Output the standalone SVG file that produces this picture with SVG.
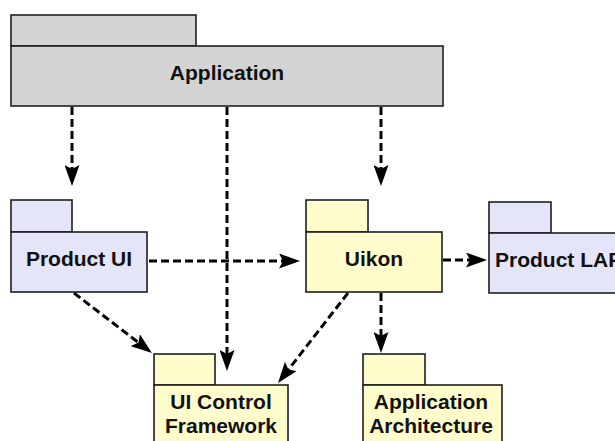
<svg xmlns="http://www.w3.org/2000/svg" width="615" height="441" viewBox="0 0 615 441">
  <style>
    .box { stroke: #1e1e1e; stroke-width: 1.6; }
    .gray { fill: #d4d4d4; }
    .lav { fill: #e5e5f9; }
    .yel { fill: #fefdcb; }
    .lbl { font-family: "Liberation Sans", Arial, sans-serif; font-weight: bold; font-size: 21px; fill: #111; text-anchor: middle; }
    .dep { fill: none; stroke: #000; stroke-width: 3; stroke-dasharray: 8 4; marker-end: url(#arr); }
  </style>
  <defs>
    <marker id="arr" markerUnits="userSpaceOnUse" markerWidth="22" markerHeight="15" viewBox="0 0 22 15" refX="4" refY="7.5" orient="auto">
      <path d="M0,0 L21,7.5 L0,15 L4,7.5 z" fill="#000"/>
    </marker>
  </defs>
  <rect width="615" height="441" fill="#fff"/>

  <g id="application">
    <rect class="box gray" x="11" y="15" width="185" height="31"/>
    <rect class="box gray" x="11" y="46" width="432" height="60"/>
    <text class="lbl" x="227" y="80">Application</text>
  </g>

  <g id="product-ui">
    <rect class="box lav" x="11" y="200" width="61" height="32"/>
    <rect class="box lav" x="11" y="232" width="136" height="60"/>
    <text class="lbl" x="79" y="266">Product UI</text>
  </g>

  <g id="uikon">
    <rect class="box yel" x="306" y="200" width="62" height="32"/>
    <rect class="box yel" x="306" y="232" width="136" height="60"/>
    <text class="lbl" x="374" y="266">Uikon</text>
  </g>

  <g id="product-laf">
    <rect class="box lav" x="489" y="202" width="62" height="31"/>
    <rect class="box lav" x="489" y="233" width="140" height="60"/>
    <text class="lbl" x="495" y="267" style="text-anchor:start">Product LAF</text>
  </g>

  <g id="ui-control-framework">
    <rect class="box yel" x="154" y="354" width="61" height="31"/>
    <rect class="box yel" x="154" y="385" width="134" height="70"/>
    <text class="lbl" x="221" y="409">UI Control</text>
    <text class="lbl" x="221" y="433">Framework</text>
  </g>

  <g id="application-architecture">
    <rect class="box yel" x="363" y="354" width="62" height="31"/>
    <rect class="box yel" x="363" y="385" width="139" height="70"/>
    <text class="lbl" x="431" y="409">Application</text>
    <text class="lbl" x="431" y="433">Architecture</text>
  </g>

  <g id="connectors">
    <path class="dep" d="M72,107 L72,169"/>
    <path class="dep" d="M381,107 L381,169"/>
    <path class="dep" d="M227,107 L227,354"/>
    <path class="dep" d="M149,261 L283,261"/>
    <path class="dep" d="M443,260 L470,260"/>
    <path class="dep" d="M381,293 L381,336"/>
    <path class="dep" d="M74,293 L138.5,342.6"/>
    <path class="dep" d="M348,293 L288.4,369.6"/>
  </g>
</svg>
